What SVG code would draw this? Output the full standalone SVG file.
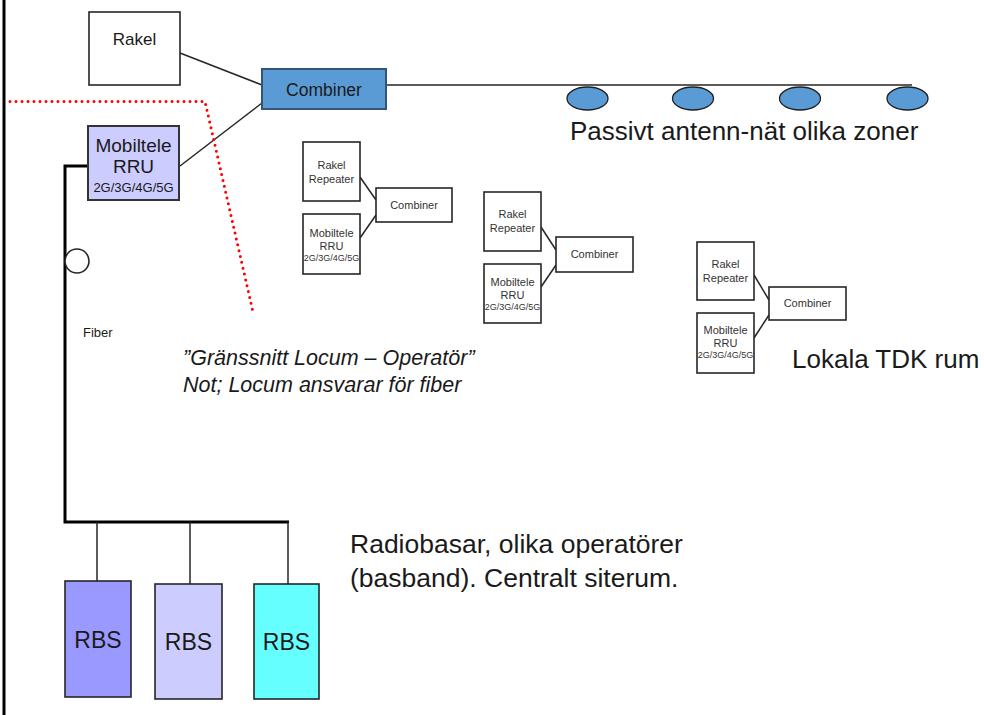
<svg xmlns="http://www.w3.org/2000/svg" width="984" height="715" viewBox="0 0 984 715">
<style>
text{font-family:"Liberation Sans",Arial,sans-serif;fill:#1a1a1a}
.box{fill:#fff;stroke:#262626;stroke-width:1.6}
.sm{font-size:11px;text-anchor:middle;fill:#333}
.xs{font-size:9px;text-anchor:middle;fill:#333}
.big{font-size:26px}
.ln{stroke:#262626;stroke-width:1.5;fill:none}
.thick{stroke:#000;stroke-width:3;fill:none}
.ant{fill:#5B9BD5;stroke:#1f1f1f;stroke-width:1.3}
.rbs{stroke:#262626;stroke-width:1.6}
</style>
<rect x="0" y="0" width="984" height="715" fill="#fff"/>
<line x1="4" y1="0" x2="4" y2="715" stroke="#000" stroke-width="3"/>

<g id="connectors">
  <line class="ln" x1="180" y1="53" x2="262" y2="85"/>
  <line class="ln" x1="180" y1="166" x2="262" y2="103"/>
  <line class="ln" x1="386" y1="85" x2="912" y2="85"/>
  <polyline class="thick" points="88,166 65,166 65,522 289,522"/>
  <line class="ln" x1="97" y1="522" x2="97" y2="581"/>
  <line class="ln" x1="190" y1="522" x2="190" y2="584"/>
  <line class="ln" x1="288" y1="522" x2="288" y2="584"/>
  <line class="ln" x1="360" y1="177" x2="376" y2="200"/>
  <line class="ln" x1="360" y1="238" x2="376" y2="215"/>
  <line class="ln" x1="541" y1="227" x2="556" y2="250"/>
  <line class="ln" x1="541" y1="287" x2="556" y2="265"/>
  <line class="ln" x1="754" y1="275" x2="769" y2="300"/>
  <line class="ln" x1="754" y1="338" x2="769" y2="315"/>
</g>

<polyline points="10,101.5 205,101.5 253,312" fill="none" stroke="#ff0000" stroke-width="3" stroke-linecap="round" stroke-dasharray="0 6"/>

<g id="fiber-loop"><circle cx="77" cy="261" r="12" fill="#fff" stroke="#262626" stroke-width="1.6"/></g>

<g id="rakel">
  <rect class="box" x="89" y="12" width="91" height="73"/>
  <text x="134.5" y="45" font-size="17" text-anchor="middle">Rakel</text>
</g>
<g id="combiner-main">
  <rect x="262" y="69" width="124" height="40" fill="#5B9BD5" stroke="#34557a" stroke-width="2"/>
  <text x="324" y="96" font-size="17.5" text-anchor="middle">Combiner</text>
</g>
<g id="mobiltele-rru">
  <rect x="88" y="126" width="91" height="74" fill="#CCCCFF" stroke="#333" stroke-width="2"/>
  <text x="133.5" y="152" font-size="19" text-anchor="middle">Mobiltele</text>
  <text x="133.5" y="173" font-size="19" text-anchor="middle">RRU</text>
  <text x="133.5" y="192" font-size="13" text-anchor="middle">2G/3G/4G/5G</text>
</g>

<g id="antennas">
  <ellipse class="ant" cx="587.5" cy="98.5" rx="20.5" ry="11.5"/>
  <ellipse class="ant" cx="693" cy="98.5" rx="20.5" ry="11.5"/>
  <ellipse class="ant" cx="800" cy="98.5" rx="20.5" ry="11.5"/>
  <ellipse class="ant" cx="907.5" cy="98.5" rx="20.5" ry="11.5"/>
</g>
<text class="big" x="570" y="140">Passivt antenn-nät olika zoner</text>

<g id="tdk1-rakel"><rect class="box" x="303" y="142" width="57" height="59"/>
  <text class="sm" x="331.5" y="169">Rakel</text><text class="sm" x="331.5" y="183">Repeater</text></g>
<g id="tdk1-rru"><rect class="box" x="303" y="214" width="57" height="60"/>
  <text class="sm" x="331.5" y="237">Mobiltele</text><text class="sm" x="331.5" y="250">RRU</text><text class="xs" x="331.5" y="261">2G/3G/4G/5G</text></g>
<g id="tdk1-combiner"><rect class="box" x="376" y="188" width="76" height="34"/>
  <text class="sm" x="414" y="209">Combiner</text></g>

<g id="tdk2-rakel"><rect class="box" x="484" y="192" width="57" height="59"/>
  <text class="sm" x="512.5" y="218">Rakel</text><text class="sm" x="512.5" y="232">Repeater</text></g>
<g id="tdk2-rru"><rect class="box" x="484" y="264" width="57" height="59"/>
  <text class="sm" x="512.5" y="286">Mobiltele</text><text class="sm" x="512.5" y="299">RRU</text><text class="xs" x="512.5" y="310">2G/3G/4G/5G</text></g>
<g id="tdk2-combiner"><rect class="box" x="556" y="237" width="77" height="35"/>
  <text class="sm" x="594.5" y="258">Combiner</text></g>

<g id="tdk3-rakel"><rect class="box" x="697" y="242" width="57" height="58"/>
  <text class="sm" x="725.5" y="268">Rakel</text><text class="sm" x="725.5" y="282">Repeater</text></g>
<g id="tdk3-rru"><rect class="box" x="697" y="313" width="57" height="60"/>
  <text class="sm" x="725.5" y="334">Mobiltele</text><text class="sm" x="725.5" y="347">RRU</text><text class="xs" x="725.5" y="358">2G/3G/4G/5G</text></g>
<g id="tdk3-combiner"><rect class="box" x="769" y="287" width="77" height="33"/>
  <text class="sm" x="807.5" y="307">Combiner</text></g>
<text class="big" x="792" y="368">Lokala TDK rum</text>

<text x="83" y="337" font-size="13">Fiber</text>
<text x="183" y="365" font-size="21.5" font-style="italic">”Gränssnitt Locum – Operatör”</text>
<text x="183" y="392" font-size="21.5" font-style="italic">Not; Locum ansvarar för fiber</text>

<g id="rbs1"><rect class="rbs" x="65" y="581" width="66" height="116" fill="#9999FF"/>
  <text x="98" y="648" font-size="23" text-anchor="middle">RBS</text></g>
<g id="rbs2"><rect class="rbs" x="155" y="584" width="67" height="115" fill="#CCCCFF"/>
  <text x="188.5" y="650" font-size="23" text-anchor="middle">RBS</text></g>
<g id="rbs3"><rect class="rbs" x="254" y="584" width="65" height="115" fill="#66FFFF"/>
  <text x="286.5" y="650" font-size="23" text-anchor="middle">RBS</text></g>

<text x="350" y="553" font-size="26.5">Radiobasar, olika operatörer</text>
<text x="350" y="587" font-size="26.5">(basband). Centralt siterum.</text>
</svg>
